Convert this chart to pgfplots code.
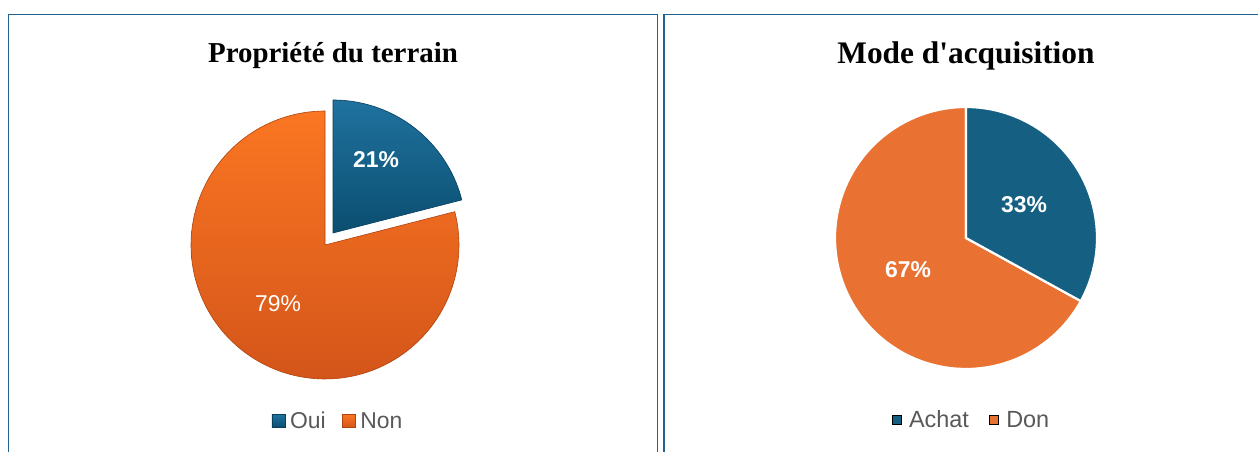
\documentclass[border=0pt]{standalone}
\usepackage{pgfplots}
\pgfplotsset{compat=1.18}
\usepackage{fontspec}
\setmainfont{Liberation Serif}
\newfontfamily\arial{Liberation Sans}

\definecolor{frame}{HTML}{1F6391}
\definecolor{ouiT}{HTML}{1F729F}
\definecolor{ouiB}{HTML}{0B4E70}
\definecolor{ouiE}{HTML}{083F5C}
\definecolor{nonT}{HTML}{FA7622}
\definecolor{nonB}{HTML}{D4551A}
\definecolor{nonE}{HTML}{B0430E}
\definecolor{achat}{HTML}{156082}
\definecolor{don}{HTML}{E97132}
\definecolor{legtext}{HTML}{595959}

% data (percent)
\def\oui{21}
\def\non{79}
\def\achat{33}
\def\don{67}
\pgfmathsetmacro{\ouiEnd}{90-3.6*\oui}
\pgfmathsetmacro{\nonEnd}{\ouiEnd-3.6*\non}
\pgfmathsetmacro{\achatEnd}{90-3.6*\achat}
\pgfmathsetmacro{\donEnd}{\achatEnd-3.6*\don}

\begin{document}
\begin{tikzpicture}[x=1bp,y=1bp]
\useasboundingbox (0,0) rectangle (1258,452);
\clip (0,0) rectangle (1258,452);
\fill[white] (0,0) rectangle (1258,452);
\draw[frame, line width=1.6bp] (8.5,-20) rectangle (657.5,437.5);
\draw[frame, line width=1.6bp] (664,-20) rectangle (1280,437.5);

% ---------------- left pie
\begin{axis}[at={(325,207)}, anchor=center, scale only axis,
  width=300bp, height=300bp, xmin=-150, xmax=150, ymin=-150, ymax=150,
  hide axis, clip=false,
  title={Propriété du terrain},
  title style={at={(0.5,1)}, anchor=base, yshift=27bp, xshift=8bp,
    font=\bfseries\fontsize{29}{29}\selectfont},
  legend style={at={(0.5433,-0.0867)}, anchor=center, draw=none, fill=none,
    legend columns=-1, font=\arial\fontsize{23}{24}\selectfont, text=legtext,
    /tikz/every odd column/.append style={column sep=3bp},
    /tikz/every even column/.append style={column sep=14bp}},
  legend image code/.code={\draw[#1] (0bp,-6.5bp) rectangle (13bp,6.5bp);},
]
\addplot[forget plot, top color=nonT, bottom color=nonB, draw=nonE, line width=0.6bp,
  domain=\ouiEnd:\nonEnd, samples=120, variable=\t]
  ({134*cos(\t)},{134*sin(\t)}) -- (axis cs:0,0) -- cycle;
\addplot[forget plot, top color=ouiT, bottom color=ouiB, draw=ouiE, line width=0.6bp,
  domain=90:\ouiEnd, samples=60, variable=\t]
  ({8+133*cos(\t)},{12+133*sin(\t)}) -- (axis cs:8,12) -- cycle;
\node[font=\arial\bfseries\fontsize{23}{23}\selectfont, text=white] at (axis cs:51,85) {21\%};
\node[font=\arial\fontsize{23}{23}\selectfont, text=white] at (axis cs:-47,-59) {79\%};
\addlegendimage{top color=ouiT, bottom color=ouiB, draw=ouiE, line width=0.5bp}
\addlegendentry{Oui}
\addlegendimage{top color=nonT, bottom color=nonB, draw=nonE, line width=0.5bp}
\addlegendentry{Non}
\end{axis}

% ---------------- right pie
\begin{axis}[at={(966,214)}, anchor=center, scale only axis,
  width=300bp, height=300bp, xmin=-150, xmax=150, ymin=-150, ymax=150,
  hide axis, clip=false,
  title={Mode d\textquotesingle acquisition},
  title style={at={(0.5,1)}, anchor=base, yshift=19bp,
    font=\bfseries\fontsize{31.5}{32}\selectfont},
  legend style={at={(0.518,-0.1067)}, anchor=center, draw=none, fill=none,
    legend columns=-1, font=\arial\fontsize{23.5}{24}\selectfont, text=legtext,
    /tikz/every odd column/.append style={column sep=6bp},
    /tikz/every even column/.append style={column sep=18bp}},
  legend image code/.code={\fill[#1] (0bp,-4.5bp) rectangle (9bp,4.5bp);},
]
\addplot[forget plot, fill=don, draw=white, line width=2.2bp,
  domain=\achatEnd:\donEnd, samples=120, variable=\t]
  ({131*cos(\t)},{131*sin(\t)}) -- (axis cs:0,0) -- cycle;
\addplot[forget plot, fill=achat, draw=white, line width=2.2bp,
  domain=90:\achatEnd, samples=60, variable=\t]
  ({131*cos(\t)},{131*sin(\t)}) -- (axis cs:0,0) -- cycle;
\node[font=\arial\bfseries\fontsize{23}{23}\selectfont, text=white] at (axis cs:58,33) {33\%};
\node[font=\arial\bfseries\fontsize{23}{23}\selectfont, text=white] at (axis cs:-58,-32) {67\%};
\addlegendimage{fill=achat}
\addlegendentry{Achat}
\addlegendimage{fill=don}
\addlegendentry{Don}
\end{axis}
\end{tikzpicture}
\end{document}
